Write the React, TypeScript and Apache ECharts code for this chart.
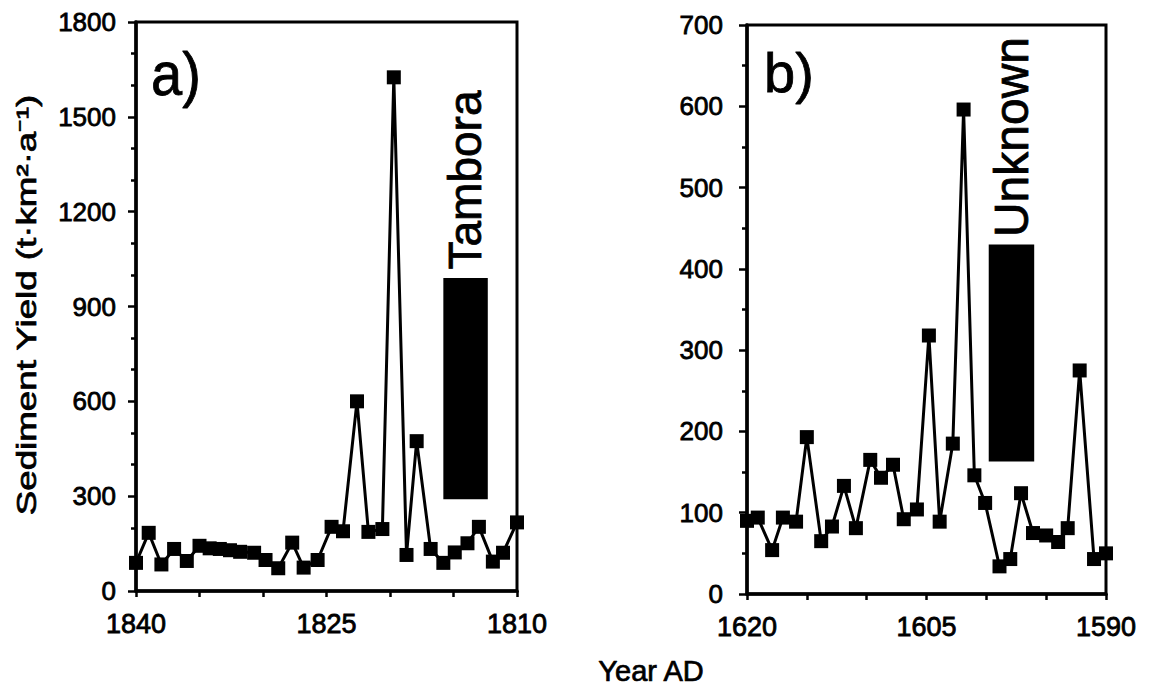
import React, { useEffect, useRef } from "react";
import * as echarts from "echarts";

// Panel a) – 1810–1840 (Tambora)
const yearsA = [1840, 1839, 1838, 1837, 1836, 1835, 1834.2, 1833.4, 1832.6, 1831.8, 1830.7, 1829.8, 1828.8, 1827.7, 1826.8, 1825.7, 1824.6, 1823.7, 1822.6, 1821.7, 1820.6, 1819.7, 1818.7, 1817.9, 1816.8, 1815.8, 1814.9, 1813.9, 1813, 1811.9, 1811.1, 1810];
const yieldA = [89, 184, 84, 133, 95, 143, 135, 133, 129, 124, 121, 98, 72, 153, 74, 98, 203, 189, 600, 187, 196, 1625, 114, 474, 133, 89, 122, 151, 203, 93, 121, 217];
const tamboraYears = [1815.8, 1812.3];
const tamboraYield = [290, 990];
const xLabelsA = [1840, 1825, 1810];
const yLabelsA = [0, 300, 600, 900, 1200, 1500, 1800];

// Panel b) – 1590–1620 (Unknown)
const yearsB = [1620, 1619.1, 1617.9, 1617, 1615.9, 1615, 1613.8, 1612.9, 1611.9, 1610.9, 1609.7, 1608.8, 1607.8, 1606.9, 1605.8, 1604.8, 1603.9, 1602.8, 1601.9, 1601, 1600.1, 1598.9, 1598, 1597.1, 1596.1, 1595, 1594, 1593.2, 1592.2, 1591, 1590];
const yieldB = [90, 94, 54, 94, 89, 193, 65, 83, 133, 81, 165, 143, 159, 92, 104, 318, 89, 185, 596, 146, 112, 34, 43, 124, 75, 72, 64, 81, 275, 43, 50];
const unknownYears = [1599.8, 1596.0];
const unknownYield = [163, 430];
const xLabelsB = [1620, 1605, 1590];
const yLabelsB = [0, 100, 200, 300, 400, 500, 600, 700];

const FONT = "Liberation Sans, Arial, Helvetica, sans-serif";

export default function App() {
  const ref = useRef<HTMLDivElement>(null);

  useEffect(() => {
    if (!ref.current) return;
    const chart = echarts.init(ref.current, undefined, { renderer: "svg" });

    const xAxisCommon = (labels: number[], gridIndex: number, min: number, max: number) => ({
      type: "value",
      gridIndex,
      min,
      max,
      interval: 5,
      inverse: true,
      z: 5,
      axisLine: { show: true, onZero: false, lineStyle: { color: "#000", width: 3.5, opacity: 1 } },
      axisTick: { show: true, inside: false, length: 6, lineStyle: { color: "#000", width: 2.5 } },
      axisLabel: {
        color: "#000",
        fontSize: 27,
        fontFamily: FONT,
        margin: 19,
        textBorderColor: "#000",
        textBorderWidth: 0.8,
        formatter: (v: number) => (labels.includes(v) ? String(v) : ""),
      },
      splitLine: { show: false },
    });

    const yAxisCommon = (labels: number[], gridIndex: number, max: number, interval: number, minorSplit: number, margin: number) => ({
      type: "value",
      gridIndex,
      min: 0,
      max,
      interval,
      z: 5,
      axisLine: { show: true, onZero: false, lineStyle: { color: "#000", width: 3.5, opacity: 1 } },
      axisTick: { show: true, inside: false, length: 8, lineStyle: { color: "#000", width: 2.5 } },
      minorTick: { show: true, splitNumber: minorSplit, length: 5, lineStyle: { color: "#000", width: 2.5 } },
      axisLabel: {
        color: "#000",
        fontSize: 26,
        fontFamily: FONT,
        margin,
        textBorderColor: "#000",
        textBorderWidth: 0.8,
        formatter: (v: number) => (labels.includes(v) ? String(v) : ""),
      },
      splitLine: { show: false },
      minorSplitLine: { show: false },
    });

    const lineSeries = (xs: number[], ys: number[], idx: number, barX: number[], barY: number[]) => ({
      type: "line",
      xAxisIndex: idx,
      yAxisIndex: idx,
      data: xs.map((x, i) => [x, ys[i]]),
      symbol: "rect",
      symbolSize: 14,
      clip: false,
      lineStyle: { color: "#000", width: 3 },
      itemStyle: { color: "#000" },
      markArea: {
        silent: true,
        itemStyle: { color: "#000", opacity: 1 },
        data: [[{ coord: [barX[0], barY[0]] }, { coord: [barX[1], barY[1]] }]],
      },
    });

    const txt = (text: string, x: number, y: number, fontSize: number, opts: any = {}) => ({
      type: "text",
      x,
      y,
      rotation: opts.rotation || 0,
      scaleX: opts.scaleX || 1,
      scaleY: opts.scaleY || 1,
      silent: true,
      style: {
        text,
        fontSize,
        fontFamily: FONT,
        fill: "#000",
        stroke: "#000",
        lineWidth: opts.lw ?? 0.8,
        align: opts.align || "center",
        verticalAlign: "middle",
        textAlign: opts.align || "center",
        textVerticalAlign: "middle",
      },
    });

    // frame rectangles drawn over the grid areas (same geometry as the grids)
    const gridsGeom = [
      { left: 136, top: 22, width: 381, height: 569 },
      { left: 747, top: 25, width: 359, height: 569 },
    ];

    chart.setOption({
      animation: false,
      backgroundColor: "#fff",
      grid: gridsGeom.map((g) => ({ ...g, show: false })),
      xAxis: [xAxisCommon(xLabelsA, 0, 1810, 1840), xAxisCommon(xLabelsB, 1, 1590, 1620)],
      yAxis: [yAxisCommon(yLabelsA, 0, 1800, 300, 3, 20), yAxisCommon(yLabelsB, 1, 700, 100, 2, 24)],
      series: [
        lineSeries(yearsA, yieldA, 0, tamboraYears, tamboraYield),
        lineSeries(yearsB, yieldB, 1, unknownYears, unknownYield),
      ],
      graphic: [
        ...gridsGeom.map((g) => ({
          type: "rect",
          silent: true,
          z: 10,
          shape: { x: g.left, y: g.top, width: g.width, height: g.height },
          style: { fill: "none", stroke: "#000", lineWidth: 3 },
        })),
        txt("a)", 151, 74, 56, { align: "left", scaleY: 1.1 }),
        txt("b)", 764, 72, 56, { align: "left" }),
        txt("Tambora", 465, 180, 46, { rotation: Math.PI / 2 }),
        txt("Unknown", 1011, 137, 48, { rotation: Math.PI / 2 }),
        txt("Sediment Yield (t·km²·a⁻¹)", 27, 305, 27, { rotation: Math.PI / 2, scaleX: 1.36, lw: 0.7 }),
        txt("Year AD", 651, 671, 29, { lw: 0.7 }),
      ],
    });

    return () => chart.dispose();
  }, []);

  return (
    <div
      ref={ref}
      style={{ position: "fixed", left: 0, top: 0, width: 1150, height: 691, background: "#fff" }}
    />
  );
}
